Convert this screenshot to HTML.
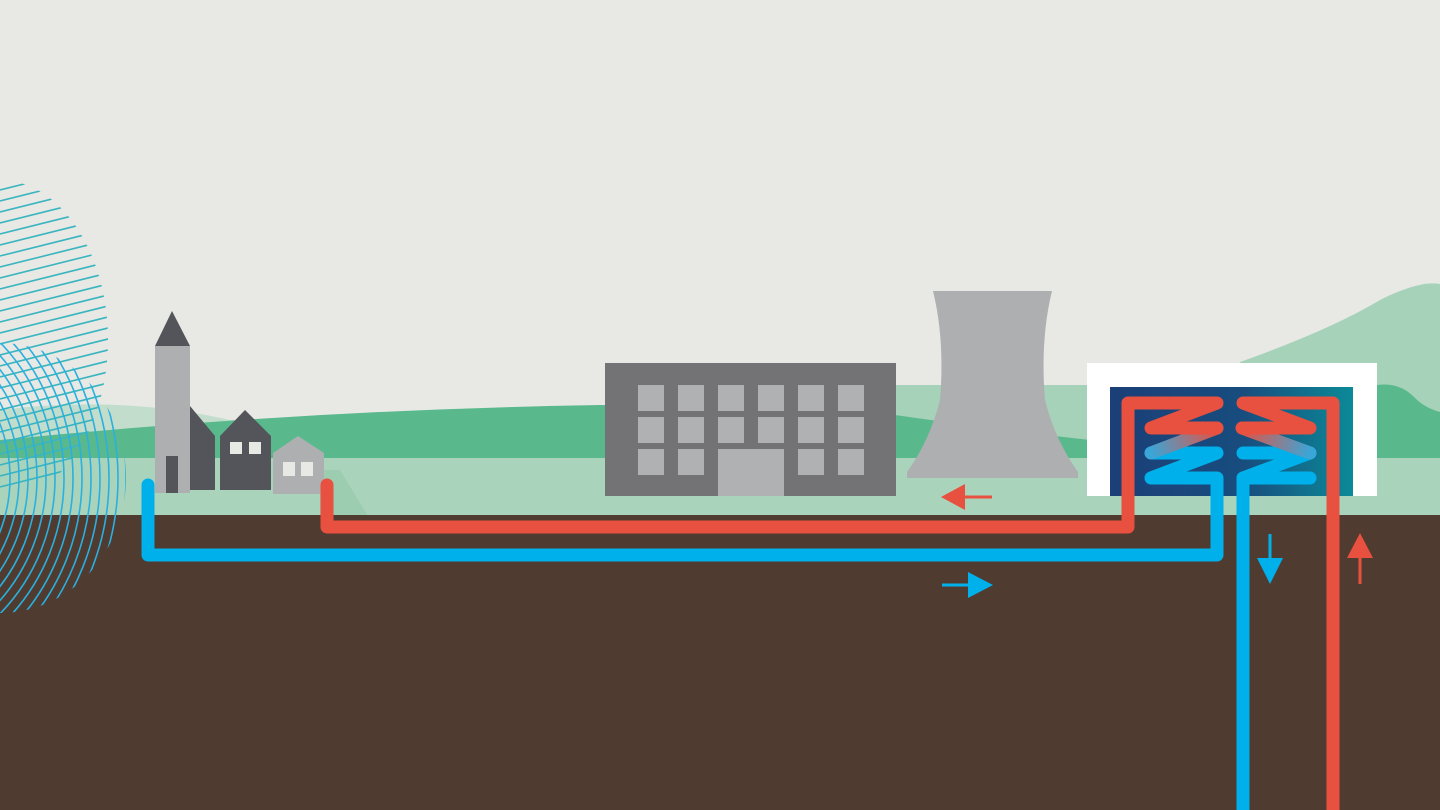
<!DOCTYPE html>
<html><head><meta charset="utf-8"><style>html,body{margin:0;padding:0;background:#e8e9e4}svg{display:block}</style></head>
<body>
<svg width="1440" height="810" viewBox="0 0 1440 810" xmlns="http://www.w3.org/2000/svg">
<defs>
<linearGradient id="bx" x1="0" x2="1" y1="0" y2="0"><stop offset="0" stop-color="#1b3f78"/><stop offset="0.55" stop-color="#184d7e"/><stop offset="1" stop-color="#0b8a98"/></linearGradient>
<linearGradient id="gl" x1="1217" y1="428" x2="1151" y2="453" gradientUnits="userSpaceOnUse"><stop offset="0" stop-color="#e8503f"/><stop offset="1" stop-color="#3aa6d8"/></linearGradient>
<linearGradient id="gr" x1="1242" y1="428" x2="1310" y2="453" gradientUnits="userSpaceOnUse"><stop offset="0" stop-color="#e8503f"/><stop offset="1" stop-color="#3aa6d8"/></linearGradient>
<clipPath id="c1"><ellipse cx="0" cy="340" rx="108" ry="160"/></clipPath>
<clipPath id="c2"><ellipse cx="0" cy="478" rx="126" ry="135"/></clipPath>
</defs>
<rect width="1440" height="810" fill="#e8e9e4"/>
<path d="M0 410 Q120 395 230 420 L1440 420 L1440 460 L0 460Z" fill="#c2ddcb"/>
<path d="M1240 362 Q1330 330 1380 300 Q1420 280 1440 284 L1440 460 L1240 460Z" fill="#a6d2ba"/>
<path d="M895 385 L1090 385 L1090 460 L895 460Z" fill="#a6d2ba"/>
<path d="M0 440 Q300 410 600 405 L895 408 L900 460 L0 460Z" fill="#59b98d"/>
<path d="M895 415 Q1000 430 1090 440 L1090 460 L895 460Z" fill="#59b98d"/>
<path d="M1377 385 Q1400 382 1415 398 Q1425 408 1440 412 L1440 460 L1377 460Z" fill="#59b98d"/>
<rect x="0" y="458" width="1440" height="58" fill="#a9d4bb"/>
<path d="M320 470 L340 470 L368 516 L320 516Z" fill="#9ccdb1"/>
<rect x="0" y="515" width="1440" height="295" fill="#4f3b2f"/>

<g stroke="#3ab5c0" stroke-width="1.6" fill="none" clip-path="url(#c1)">
<line x1="0" y1="190" x2="200" y2="140"/><line x1="0" y1="201" x2="200" y2="151"/>
<line x1="0" y1="212" x2="200" y2="162"/><line x1="0" y1="223" x2="200" y2="173"/>
<line x1="0" y1="234" x2="200" y2="184"/><line x1="0" y1="245" x2="200" y2="195"/>
<line x1="0" y1="256" x2="200" y2="206"/><line x1="0" y1="267" x2="200" y2="217"/>
<line x1="0" y1="278" x2="200" y2="228"/><line x1="0" y1="289" x2="200" y2="239"/>
<line x1="0" y1="300" x2="200" y2="250"/><line x1="0" y1="311" x2="200" y2="261"/>
<line x1="0" y1="322" x2="200" y2="272"/><line x1="0" y1="333" x2="200" y2="283"/>
<line x1="0" y1="344" x2="200" y2="294"/><line x1="0" y1="355" x2="200" y2="305"/>
<line x1="0" y1="366" x2="200" y2="316"/><line x1="0" y1="377" x2="200" y2="327"/>
<line x1="0" y1="388" x2="200" y2="338"/><line x1="0" y1="399" x2="200" y2="349"/>
<line x1="0" y1="410" x2="200" y2="360"/><line x1="0" y1="421" x2="200" y2="371"/>
<line x1="0" y1="432" x2="200" y2="382"/><line x1="0" y1="443" x2="200" y2="393"/>
<line x1="0" y1="454" x2="200" y2="404"/><line x1="0" y1="465" x2="200" y2="415"/>
<line x1="0" y1="476" x2="200" y2="426"/><line x1="0" y1="487" x2="200" y2="437"/>
</g>
<g stroke="#2ab0e0" stroke-width="1.6" fill="none" clip-path="url(#c2)">
<circle cx="-140" cy="478" r="150"/><circle cx="-140" cy="478" r="159"/>
<circle cx="-140" cy="478" r="168"/><circle cx="-140" cy="478" r="177"/>
<circle cx="-140" cy="478" r="186"/><circle cx="-140" cy="478" r="195"/>
<circle cx="-140" cy="478" r="204"/><circle cx="-140" cy="478" r="213"/>
<circle cx="-140" cy="478" r="222"/><circle cx="-140" cy="478" r="231"/>
<circle cx="-140" cy="478" r="240"/><circle cx="-140" cy="478" r="249"/>
<circle cx="-140" cy="478" r="258"/><circle cx="-140" cy="478" r="266"/>
</g>

<polygon points="155,346 172,311 190,346" fill="#53555b"/>
<rect x="155" y="346" width="35" height="147" fill="#aeafb1"/>
<rect x="166" y="456" width="12" height="37" fill="#53555b"/>
<polygon points="190,406 215,436 215,490 190,490" fill="#53555b"/>
<polygon points="220,436 245,410 271,436 271,490 220,490" fill="#53555b"/>
<rect x="230" y="442" width="12" height="12" fill="#e8e9e4"/><rect x="249" y="442" width="12" height="12" fill="#e8e9e4"/>
<polygon points="273,453 298,436 324,453 324,494 273,494" fill="#aeafb1"/>
<rect x="283" y="462" width="12" height="14" fill="#e8e9e4"/><rect x="301" y="462" width="12" height="14" fill="#e8e9e4"/>

<rect x="605" y="363" width="291" height="133" fill="#737376"/>
<g fill="#b0b1b3">
<rect x="638" y="385" width="26" height="26"/><rect x="678" y="385" width="26" height="26"/><rect x="718" y="385" width="26" height="26"/><rect x="758" y="385" width="26" height="26"/><rect x="798" y="385" width="26" height="26"/><rect x="838" y="385" width="26" height="26"/>
<rect x="638" y="417" width="26" height="26"/><rect x="678" y="417" width="26" height="26"/><rect x="718" y="417" width="26" height="26"/><rect x="758" y="417" width="26" height="26"/><rect x="798" y="417" width="26" height="26"/><rect x="838" y="417" width="26" height="26"/>
<rect x="638" y="449" width="26" height="26"/><rect x="678" y="449" width="26" height="26"/><rect x="798" y="449" width="26" height="26"/><rect x="838" y="449" width="26" height="26"/>
<rect x="718" y="449" width="66" height="47"/>
</g>

<path d="M933 291 L1052 291 Q1040 340 1045 400 Q1055 440 1078 472 L1078 478 L907 478 L907 472 Q930 440 940 400 Q945 340 933 291Z" fill="#aeafb1"/>

<rect x="1087" y="363" width="290" height="133" fill="#ffffff"/>
<rect x="1110" y="387" width="243" height="109" fill="url(#bx)"/>

<g fill="none" stroke-width="13" stroke-linejoin="round" stroke-linecap="round">
<polyline points="148,485 148,555 1217,555 1217,478 1151,478 1217,453 1151,453" stroke="#00b0ea"/>
<line x1="1151" y1="453" x2="1217" y2="428" stroke="url(#gl)"/>
<polyline points="327,485 327,527 1128,527 1128,403 1217,403 1151,428 1217,428" stroke="#e8503f"/>
<polyline points="1243,485 1243,810" stroke="#00b0ea" stroke-linecap="butt"/>
<polyline points="1243,453 1310,453 1243,478 1310,478" stroke="#00b0ea"/>
<polyline points="1243,478 1243,490" stroke="#00b0ea"/>
<line x1="1310" y1="453" x2="1242" y2="428" stroke="url(#gr)"/>
<polyline points="1333,810 1333,403 1243,403 1310,428 1243,428" stroke="#e8503f"/>
</g>

<line x1="960" y1="497" x2="992" y2="497" stroke="#e8503f" stroke-width="3"/>
<polygon points="941,497 965,484 965,510" fill="#e8503f"/>
<line x1="942" y1="585" x2="972" y2="585" stroke="#00b0ea" stroke-width="3"/>
<polygon points="993,585 968,572 968,598" fill="#00b0ea"/>
<line x1="1270" y1="534" x2="1270" y2="562" stroke="#00b0ea" stroke-width="3"/>
<polygon points="1270,584 1257,558 1283,558" fill="#00b0ea"/>
<line x1="1360" y1="555" x2="1360" y2="584" stroke="#e8503f" stroke-width="3"/>
<polygon points="1360,533 1347,558 1373,558" fill="#e8503f"/>
</svg>
</body></html>
